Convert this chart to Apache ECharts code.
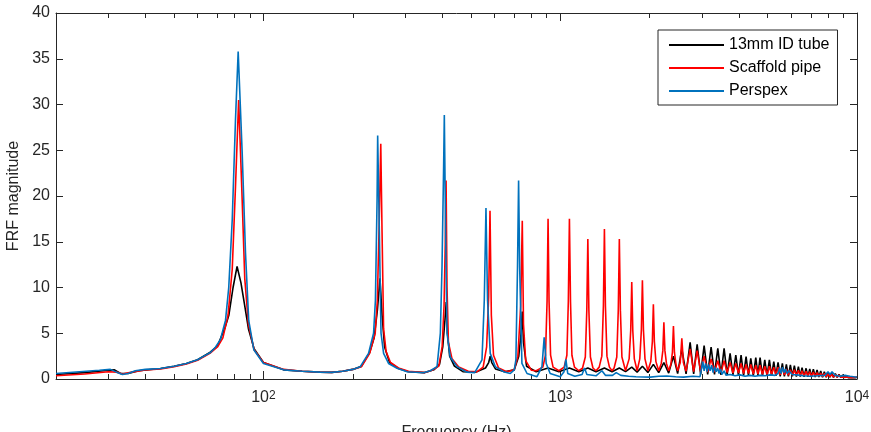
<!DOCTYPE html>
<html><head><meta charset="utf-8">
<script src="https://cdn.jsdelivr.net/npm/echarts@6/dist/echarts.min.js"></script>
<style>html,body{margin:0;padding:0;background:#fff}#c{width:871px;height:432px}</style>
</head><body><div id="c"></div>
<script>
const seriesNames = ['13mm ID tube', 'Scaffold pipe', 'Perspex'];
const seriesColors = ['#000000', '#ff0000', '#0072bd'];
const xMin = 20, xMax = 10000;
const xMajorTicks = [100, 1000, 10000];
const xMinorTicks = [30, 40, 50, 60, 70, 80, 90, 200, 300, 400, 500, 600, 700, 800, 900, 2000, 3000, 4000, 5000, 6000, 7000, 8000, 9000];
const yMin = 0, yMax = 40, yStep = 5;
const xTitle = 'Frequency (Hz)';
const yTitle = 'FRF magnitude';

// [frequency Hz, FRF magnitude]
const tubeData = [
[20,0.5],[25,0.7],[30,0.95],[31.5,1.0],[33,0.6],[35,0.6],[38,0.9],[45,1.15],[50,1.4],[55,1.7],[60,2.1],[66,2.9],[70,3.6],[74,5.5],[76.5,7],[79,10],[81.5,12.3],[84,10.5],[86.5,8],[89,5.5],[93,3.3],[100,1.8],[117,1.0],[135,0.85],[155,0.75],[170,0.72],[185,0.85],[200,1.05],[214,1.4],[228,2.9],[236,4.5],[242,7.5],[247,11],[251,7],[256,3.5],[266,1.8],[285,1.15],[308,0.8],[350,0.7],[375,1.0],[392,1.6],[402,3.5],[409,6.5],[413,8.4],[417,5],[424,2.5],[440,1.4],[470,0.8],[520,0.75],[560,1.2],[574,1.8],[581,2.5],[588,1.8],[605,1.1],[650,0.8],[700,1.0],[725,2.5],[738,5],[745,7.36],[752,4],[770,1.4],[830,0.8],[910,1.2],[990,0.8],[1074,1.2],[1155,0.8],[1239,1.2],[1320,0.8],[1409,1.2],[1495,0.8],[1582,1.2],[1660,0.8],[1742,1.3],[1816,0.75],[1892,1.4],[1974,0.7],[2060,1.6],[2147,0.7],[2235,1.8],[2320,0.65],[2407,2.5],[2487,0.6],[2569,3.3],[2655,0.55],[2740,4.0],[2816,0.55],[2893,3.8],[2973,0.5],[3054,3.64],[3139,0.5],[3224,3.5],[3310,0.5],[3396,3.35],[3481,0.45],[3566,3.35],[3651,0.45],[3736,2.8],[3820,0.45],[3905,2.6],[3986,0.4],[4068,2.6],[4148,0.4],[4229,2.44],[4307,0.4],[4386,2.26],[4473,0.38],[4560,2.33],[4637,0.38],[4714,2.33],[4801,0.35],[4889,2.08],[4978,0.35],[5067,2.08],[5155,0.33],[5243,1.9],[5331,0.33],[5420,1.82],[5512,0.3],[5604,1.71],[5692,0.3],[5781,1.6],[5872,0.28],[5963,1.53],[6057,0.28],[6151,1.46],[6248,0.26],[6346,1.35],[6437,0.25],[6529,1.24],[6632,0.25],[6736,1.17],[6833,0.24],[6931,1.1],[7029,0.23],[7128,1.06],[7231,0.22],[7335,1.0],[7440,0.21],[7546,0.88],[7653,0.2],[7761,0.8],[7873,0.2],[7986,0.73],[8102,0.19],[8218,0.62],[8334,0.18],[8450,0.6],[8573,0.17],[8697,0.5],[8823,0.16],[8950,0.44],[9077,0.15],[9205,0.38],[9338,0.15],[9471,0.33],[9593,0.14],[9716,0.25],[9858,0.14],[10000,0.2]
];
const scaffoldData = [
[20,0.35],[25,0.55],[30,0.8],[32,0.75],[33.5,0.55],[36,0.75],[40,1.0],[45,1.1],[50,1.35],[55,1.65],[60,2.05],[66,2.8],[70,3.5],[73,4.5],[76,7],[78.5,12],[80.5,21],[82.5,30.5],[84.5,21],[86.5,11],[89,6.0],[93,3.2],[100,1.8],[117,1.05],[135,0.85],[155,0.75],[170,0.72],[185,0.85],[200,1.05],[214,1.35],[228,2.8],[238,5.0],[242,8.6],[245.5,17],[248.5,25.7],[251,16],[254,5.5],[259,3.0],[268,1.8],[285,1.2],[308,0.85],[350,0.7],[370,0.95],[390,1.4],[400,3.5],[406,8],[410,15],[412.5,21.7],[415.5,10],[420,4],[432,2.2],[455,1.3],[490,0.85],[525,0.8],[550,1.3],[565,3.5],[574,9],[580,18.4],[586,7],[596,2.6],[620,1.2],[660,0.8],[700,1.0],[720,2.5],[736,8],[745,17.3],[752,6],[765,2],[800,0.95],[830,0.9],[874,1.3],[892,2.6],[903,8.5],[910,17.5],[917,8.5],[928,2.6],[946,1.3],[990,0.9],[1031,1.3],[1053,2.6],[1065,8.5],[1074,17.5],[1083,8.5],[1095,2.6],[1117,1.3],[1155,0.9],[1189,1.2],[1215,2.4],[1229,7.5],[1239,15.3],[1249,7.5],[1264,2.4],[1289,1.2],[1320,0.9],[1353,1.3],[1381,2.5],[1398,8],[1409,16.4],[1420,8],[1437,2.5],[1465,1.3],[1495,0.9],[1519,1.2],[1551,2.4],[1569,7.5],[1582,15.3],[1595,7.5],[1614,2.4],[1660,0.9],[1707,2.2],[1728,5.3],[1742,10.6],[1756,5.3],[1777,2.2],[1816,0.9],[1854,2.2],[1877,5.4],[1892,10.8],[1907,5.4],[1930,2.2],[1974,0.9],[2019,1.9],[2044,4.1],[2060,8.16],[2076,4.1],[2101,1.9],[2147,0.9],[2190,1.7],[2217,3.1],[2235,6.2],[2253,3.1],[2280,1.7],[2320,0.9],[2359,1.6],[2388,2.9],[2407,5.8],[2426,2.9],[2455,1.6],[2487,0.9],[2538,1.8],[2569,4.45],[2600,1.8],[2655,0.85],[2740,3.3],[2816,0.8],[2893,3.1],[2973,0.8],[3054,2.5],[3139,0.75],[3224,2.2],[3310,0.75],[3396,2.0],[3481,0.7],[3566,2.0],[3651,0.7],[3736,1.8],[3820,0.65],[3905,1.7],[3986,0.65],[4068,1.7],[4148,0.6],[4229,1.6],[4307,0.6],[4386,1.6],[4473,0.55],[4560,1.5],[4637,0.55],[4714,1.5],[4801,0.5],[4889,1.4],[4978,0.5],[5067,1.4],[5155,0.5],[5243,1.3],[5331,0.45],[5420,1.3],[5512,0.45],[5604,1.2],[5692,0.45],[5781,1.1],[5872,0.4],[5963,1.0],[6057,0.4],[6151,1.0],[6248,0.4],[6346,0.95],[6437,0.35],[6529,0.9],[6632,0.35],[6736,0.85],[6833,0.35],[6931,0.8],[7029,0.3],[7128,0.75],[7231,0.3],[7335,0.7],[7440,0.3],[7546,0.65],[7653,0.25],[7761,0.6],[7873,0.25],[7986,0.55],[8102,0.25],[8218,0.5],[8334,0.2],[8450,0.5],[8573,0.2],[8697,0.45],[8823,0.2],[8950,0.4],[9077,0.2],[9205,0.4],[9338,0.2],[9471,0.35],[9593,0.15],[9716,0.3],[10000,0.2]
];
const perspexData = [
[20,0.6],[24,0.8],[28,0.95],[30.5,1.05],[32,0.75],[33.5,0.5],[35,0.6],[37,0.9],[40,1.05],[45,1.15],[50,1.4],[55,1.7],[60,2.1],[63,2.5],[66.3,2.9],[69,3.5],[71.6,4.3],[74.5,6.4],[76.4,10],[78.5,17.4],[80.5,28.3],[82.2,35.8],[84.8,24.7],[87,13.8],[89.2,6.4],[92.8,3.2],[100,1.7],[117,1.0],[135,0.85],[155,0.75],[170,0.72],[185,0.85],[200,1.05],[212,1.35],[226,2.8],[235,5.0],[238.4,8.6],[241.5,19.6],[242.6,26.6],[245.8,16],[249,5],[254,2.8],[264,1.7],[282,1.17],[305,0.8],[346,0.69],[365,0.9],[384.6,1.35],[394.5,5],[399.7,12.3],[404.7,23.2],[406.9,28.85],[411,15.9],[415.5,5],[426,2.4],[449,1.35],[485,0.75],[515,0.7],[545,2.1],[554.8,8.6],[562.1,18.7],[569,8.6],[581,2.8],[604,1.35],[644,0.8],[679,0.6],[700,1.0],[709,2.1],[718,12.3],[724,21.7],[730,12.3],[743,1.7],[773,0.6],[835,0.25],[868,1.35],[883,4.55],[897,1.7],[925,0.6],[1000,0.25],[1030,0.8],[1045,2.15],[1060,0.6],[1120,0.3],[1185,0.5],[1207,1.2],[1230,0.5],[1320,0.35],[1382,0.9],[1420,0.4],[1500,0.4],[1544,0.7],[1600,0.4],[1700,0.3],[1800,0.25],[2009,0.2],[2150,0.3],[2286,0.33],[2450,0.25],[2602,0.2],[2800,0.3],[2958,0.25],[3023,1.9],[3054,0.9],[3089,1.7],[3126,0.8],[3162,1.6],[3199,0.9],[3237,1.5],[3275,0.7],[3313,1.3],[3352,0.8],[3391,1.2],[3430,0.6],[3470,1.1],[3511,0.5],[3566,0.9],[3622,0.4],[3736,0.5],[3884,0.35],[4037,0.45],[4196,0.3],[4362,0.4],[4534,0.3],[4713,0.4],[4899,0.35],[5093,0.45],[5294,0.4],[5420,0.6],[5484,1.2],[5548,0.6],[5613,1.3],[5678,0.7],[5745,1.1],[5812,0.6],[5903,0.9],[6041,0.5],[6280,0.45],[6579,0.35],[6946,0.3],[7389,0.35],[7803,0.4],[7986,0.8],[8111,0.5],[8238,0.8],[8432,0.4],[8766,0.3],[9112,0.4],[9472,0.3],[10000,0.2]
];

const FONT = '"Liberation Sans", Arial, Helvetica, sans-serif';
const AX = '#262626';
const lg = Math.log10;
const xl0 = lg(xMin), xl1 = lg(xMax);

function tickAxis(pos, ticks, len, showLabel) {
  return {
    type: 'value', gridIndex: 0, position: pos, min: xl0, max: xl1,
    axisLine: { show: false },
    splitLine: { show: false },
    axisTick: { show: true, inside: true, length: len, customValues: ticks.map(lg), lineStyle: { color: AX, width: 1 } },
    axisLabel: showLabel ? {
      show: true, customValues: ticks.map(lg), margin: 11,
      formatter: v => '{b|10}{s|' + Math.round(v) + '}',
      rich: {
        b: { fontFamily: FONT, fontSize: 16, color: AX, lineHeight: 16, padding: [7, 0, 0, 0], verticalAlign: 'bottom' },
        s: { fontFamily: FONT, fontSize: 12, color: AX, lineHeight: 12, verticalAlign: 'top' }
      }
    } : { show: false }
  };
}

const chart = echarts.init(document.getElementById('c'), null, { renderer: 'canvas', width: 871, height: 432 });
chart.setOption({
  animation: false,
  backgroundColor: '#ffffff',
  grid: { left: 56, right: 14, top: 13, bottom: 53, containLabel: false, outerBoundsMode: 'none' },
  legend: {
    data: seriesNames, orient: 'vertical', left: 658, top: 30,
    padding: [6, 8, 5, 11], itemGap: 5, itemWidth: 55, itemHeight: 2, icon: 'rect',
    backgroundColor: '#ffffff', borderColor: AX, borderWidth: 1,
    textStyle: { fontFamily: FONT, fontSize: 16, color: '#000', lineHeight: 18 }
  },
  xAxis: [
    {
      type: 'log', logBase: 10, min: xMin, max: xMax, position: 'bottom',
      axisLine: { show: true, lineStyle: { color: AX, width: 1 } },
      axisTick: { show: false }, axisLabel: { show: false }, splitLine: { show: false },
      name: xTitle, nameLocation: 'middle', nameGap: 46,
      nameTextStyle: { fontFamily: FONT, fontSize: 16, color: AX }
    },
    tickAxis('bottom', xMajorTicks, 8, true),
    tickAxis('bottom', xMinorTicks, 5, false),
    Object.assign(tickAxis('top', xMajorTicks, 8, false), { axisLine: { show: true, lineStyle: { color: AX, width: 1 } } }),
    tickAxis('top', xMinorTicks, 5, false)
  ],
  yAxis: [
    {
      type: 'value', min: yMin, max: yMax, interval: yStep, position: 'left',
      axisLine: { show: true, lineStyle: { color: AX, width: 1 } },
      axisTick: { show: true, inside: true, length: 7, lineStyle: { color: AX } },
      axisLabel: { fontFamily: FONT, fontSize: 16, color: AX, margin: 6 },
      splitLine: { show: false },
      name: yTitle, nameLocation: 'middle', nameGap: 33, nameRotate: 90,
      nameTextStyle: { fontFamily: FONT, fontSize: 16, color: AX }
    },
    {
      type: 'value', min: yMin, max: yMax, interval: yStep, position: 'right',
      axisLine: { show: true, lineStyle: { color: AX, width: 1 } },
      axisTick: { show: true, inside: true, length: 7, lineStyle: { color: AX } },
      axisLabel: { show: false }, splitLine: { show: false }
    }
  ],
  series: [tubeData, scaffoldData, perspexData].map((d, i) => ({
    name: seriesNames[i], type: 'line', xAxisIndex: 0, yAxisIndex: 0,
    data: d, showSymbol: false, symbol: 'none', smooth: false,
    color: seriesColors[i],
    lineStyle: { color: seriesColors[i], width: 1.6 },
    emphasis: { disabled: true }
  }))
});
</script></body></html>
